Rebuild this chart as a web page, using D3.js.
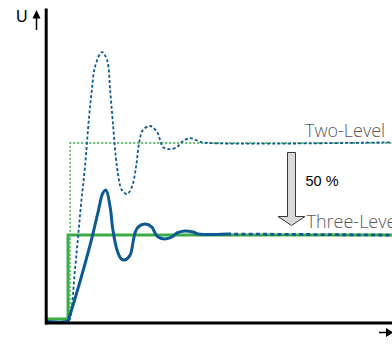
<!DOCTYPE html>
<html>
<head>
<meta charset="utf-8">
<script src="https://cdn.jsdelivr.net/npm/d3@7"></script>
<style>
  html, body { margin: 0; padding: 0; background: #fff; }
  svg { display: block; }
</style>
</head>
<body>
<svg id="chart" width="392" height="351"></svg>
<script>
// ---- Data (time 0..100, amplitude: two-level reference = 100) ----
const twoLevelRef = [[6.7, 0], [6.7, 100], [100, 100]];
const threeLevelRef = [[0, 0.5], [6.1, 0.5], [6.1, 48], [100, 48]];
const twoLevelResp = [
  [6.1, 0], [6.7, 1.7], [8.1, 28.2], [9.0, 46.9], [9.9, 66.1], [11.0, 86.4],
  [12.2, 114.7], [13.0, 129.9], [13.9, 142.9], [15.9, 151.4], [17.4, 146.9],
  [18.3, 129.9], [19.1, 111.3], [20.3, 86.4], [21.7, 73.4], [23.2, 71.2],
  [24.6, 75.1], [25.8, 86.4], [26.7, 100], [27.8, 107.3], [29.9, 109.6],
  [31.9, 106.2], [32.8, 101.7], [33.6, 97.7], [35.7, 96.6], [37.7, 97.7],
  [39.1, 100.6], [41.5, 102.8], [43.8, 101.1], [45.5, 100.2], [100, 100.4]
];
const threeLevelResp = [
  [0, -0.8], [6.1, -0.6], [6.4, 1.1], [12.5, 42.4], [14.8, 61.0], [16.2, 71.8],
  [17.1, 73.4], [18.3, 63.8], [19.1, 50.8], [20.3, 39.5], [21.5, 34.5],
  [22.6, 33.9], [24.1, 36.7], [24.9, 43.5], [25.5, 49.2], [26.4, 52.5],
  [28.4, 54.2], [30.4, 52.5], [31.3, 49.2], [32.2, 46.9], [34.2, 45.8],
  [36.2, 46.9], [37.7, 49.2], [40.0, 50.3], [42.3, 49.7], [43.8, 48.6], [52.2, 48.6]
];
const threeLevelTail = [[52.2, 48.6], [100, 48.0]];
const labels = ["Two-Level", "Three-Level"];
const labelValues = [100, 48];
const reductionLabel = "50 %";
const axisLabel = "U";

// ---- Scales ----
const svg = d3.select("#chart");
const x = d3.scaleLinear().domain([0, 100]).range([47, 392]);
const y = d3.scaleLinear().domain([0, 176]).range([320, 8.5]);

const blue = "#0d5a92";
const green = "#3bab48";

const line = d3.line().x(d => x(d[0])).y(d => y(d[1]));
const smooth = d3.line().x(d => x(d[0])).y(d => y(d[1])).curve(d3.curveCatmullRom.alpha(0.5));

// ---- Reference steps ----
svg.append("path").attr("d", line(twoLevelRef))
  .attr("fill", "none").attr("stroke", green).attr("stroke-width", 1.3)
  .attr("stroke-dasharray", "2.2,1.8");
svg.append("path").attr("d", line(threeLevelRef))
  .attr("fill", "none").attr("stroke", green).attr("stroke-width", 3);

// ---- Responses ----
svg.append("path").attr("d", smooth(twoLevelResp))
  .attr("fill", "none").attr("stroke", blue).attr("stroke-width", 1.8)
  .attr("stroke-dasharray", "3,2.2");
svg.append("path").attr("d", smooth(threeLevelResp))
  .attr("fill", "none").attr("stroke", blue).attr("stroke-width", 3)
  .attr("stroke-linejoin", "round");
svg.append("path").attr("d", line(threeLevelTail))
  .attr("fill", "none").attr("stroke", blue).attr("stroke-width", 2.8)
  .attr("stroke-dasharray", "4,3.2");

// ---- Axes ----
const xAxisY = 323;
const yAxisG = svg.append("g").attr("transform", `translate(46.2,0)`)
  .call(d3.axisLeft(y).tickValues([]).tickSizeOuter(0));
yAxisG.select(".domain").attr("stroke", "#000").attr("stroke-width", 3)
  .attr("d", `M0,${y(176)}V${xAxisY + 1.5}`);
const xAxisG = svg.append("g").attr("transform", `translate(0,${xAxisY})`)
  .call(d3.axisBottom(x).tickValues([]).tickSizeOuter(0));
xAxisG.select(".domain").attr("stroke", "#000").attr("stroke-width", 3)
  .attr("d", `M45,0H392`);

// small arrows
svg.append("line").attr("x1", 379).attr("x2", 388).attr("y1", 332.5).attr("y2", 332.5)
  .attr("stroke", "#000").attr("stroke-width", 1.5);
svg.append("path").attr("d", "M386,328L393,332.5L386,337Z").attr("fill", "#000");
svg.append("line").attr("x1", 36.5).attr("x2", 36.5).attr("y1", 17).attr("y2", 30)
  .attr("stroke", "#000").attr("stroke-width", 1.5);
svg.append("path").attr("d", "M32.5,18.5L36.5,10L40.5,18.5Z").attr("fill", "#000");

svg.append("text").attr("x", 16).attr("y", 21.5).text(axisLabel)
  .attr("font-family", "Liberation Sans, Arial, sans-serif").attr("font-size", 16)
  .attr("fill", "#000");

// ---- Reduction arrow ----
svg.append("path")
  .attr("d", "M287.5,152.5H295.5V216.5H305L291.5,225.5L278,216.5H287.5Z")
  .attr("fill", "#d9d9d9").attr("stroke", "#3a3a3a").attr("stroke-width", 1);

svg.append("text").attr("x", 305.5).attr("y", 186).text(reductionLabel)
  .attr("font-family", "Liberation Sans, Arial, sans-serif").attr("font-size", 14.5)
  .attr("fill", "#000");

// ---- Labels ----
svg.selectAll("text.lvl").data(labels).enter().append("text")
  .attr("class", "lvl")
  .attr("x", (d, i) => i === 0 ? 305 : 306.5)
  .attr("y", (d, i) => y(labelValues[i]) - (i === 0 ? 6 : 7.5))
  .attr("font-family", "Open Sans, Lato, sans-serif")
  .attr("font-weight", 300)
  .attr("font-size", 18)
  .attr("fill", "#595959")
  .text(d => d);
</script>
</body>
</html>
